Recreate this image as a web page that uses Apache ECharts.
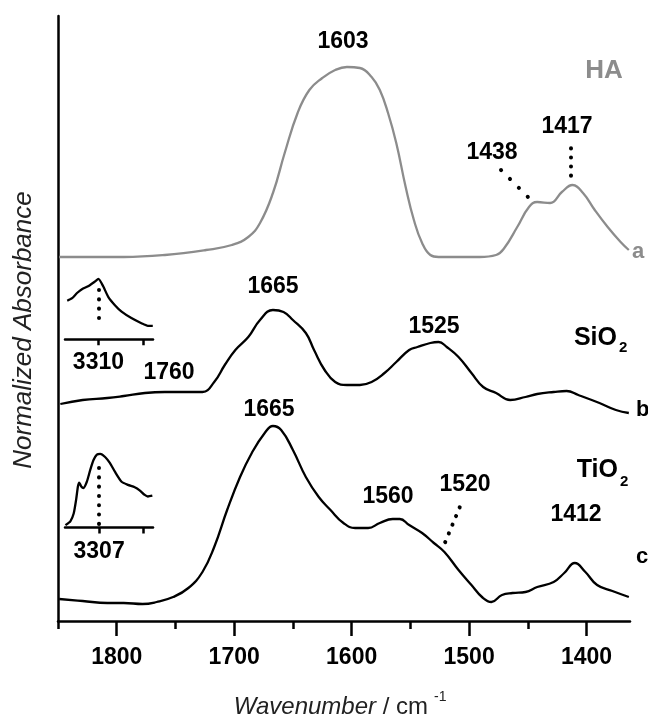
<!DOCTYPE html>
<html>
<head>
<meta charset="utf-8">
<script src="https://cdn.jsdelivr.net/npm/echarts@6/dist/echarts.min.js"></script>
<style>html,body{margin:0;padding:0;background:#fff}#c{width:648px;height:722px}</style>
</head>
<body>
<div id="c"></div>
<script>
// ---- data ----
const haWavenumber = [1849,1794,1759,1724,1702,1688,1678,1667,1657,1646,1636,1625,1614,1604,1593,1583,1576,1569,1562,1554,1547,1540,1533,1526,1512,1491,1477,1470,1459,1449,1442,1431,1421,1412,1403,1393,1382,1371,1364];
const haAbsorbance = [3.64,3.64,3.66,3.71,3.76,3.84,3.98,4.28,4.68,5.08,5.31,5.43,5.51,5.54,5.53,5.44,5.31,5.08,4.78,4.34,4.01,3.78,3.66,3.64,3.64,3.64,3.66,3.73,3.94,4.14,4.19,4.18,4.29,4.36,4.28,4.11,3.94,3.79,3.71];

const sio2Wavenumber = [1848,1829,1808,1794,1776,1759,1741,1727,1717,1708,1699,1688,1678,1667,1658,1650,1639,1632,1623,1614,1604,1593,1583,1572,1562,1551,1544,1533,1526,1519,1509,1498,1488,1477,1465,1452,1442,1428,1417,1407,1389,1375,1364];
const sio2Absorbance = [2.17,2.21,2.23,2.25,2.28,2.29,2.29,2.29,2.39,2.56,2.71,2.84,3.01,3.11,3.09,3.01,2.88,2.71,2.51,2.39,2.36,2.36,2.39,2.48,2.59,2.71,2.74,2.78,2.79,2.74,2.64,2.48,2.34,2.28,2.21,2.24,2.27,2.29,2.30,2.26,2.18,2.11,2.08];

const tio2Wavenumber = [1849,1829,1808,1794,1778,1766,1752,1739,1727,1717,1706,1695,1685,1674,1667,1660,1650,1639,1628,1618,1607,1597,1586,1576,1565,1559,1551,1540,1530,1521,1509,1498,1489,1481,1472,1463,1452,1442,1428,1419,1410,1401,1391,1378,1364];
const tio2Absorbance = [0.22,0.20,0.18,0.18,0.17,0.19,0.24,0.33,0.49,0.74,1.11,1.44,1.68,1.88,1.95,1.91,1.71,1.44,1.24,1.11,0.98,0.93,0.93,0.98,1.02,1.02,0.96,0.88,0.78,0.69,0.51,0.36,0.24,0.19,0.26,0.28,0.29,0.34,0.39,0.48,0.58,0.49,0.36,0.30,0.24];

const sio2InsetWavenumber = [3450,3428,3406,3384,3354,3325,3310,3288,3266,3236,3206,3162,3117,3088,3066];
const sio2InsetAbsorbance = [0.60,0.64,0.72,0.78,0.83,0.90,0.94,0.82,0.66,0.53,0.43,0.33,0.25,0.21,0.21];

const tio2InsetWavenumber = [3458,3436,3421,3410,3402,3396,3387,3377,3362,3347,3332,3317,3302,3280,3258,3236,3206,3177,3147,3125,3102,3088,3068];
const tio2InsetAbsorbance = [0.03,0.08,0.18,0.36,0.53,0.58,0.53,0.51,0.59,0.74,0.87,0.94,0.95,0.91,0.83,0.72,0.59,0.55,0.52,0.48,0.42,0.40,0.41];

const majorTicks = [1400,1500,1600,1700,1800];
const minorTicks = [1450,1550,1650,1750,1850];
const sio2InsetTicks = [3310,3110];
const sio2InsetLabel = [3310];
const tio2InsetTicks = [3307,3107];
const tio2InsetLabel = [3307];

// ---- chart ----
const zip = (a,b) => a.map((v,i) => [v, b[i]]);
const FF = '"Liberation Sans", Arial, sans-serif';
const dotStyle = (gap) => ({color:'#000', width:4, type:[0.1, gap], cap:'round'});
const plain = (v) => String(Math.round(v));

const chart = echarts.init(document.getElementById('c'), null, {renderer:'canvas'});

function txt(text, x, y, font, fill, align) {
  return {type:'text', x:x, y:y, silent:true,
    style:{text:text, font:font, fill:fill||'#000',
      align:align||'center', verticalAlign:'middle',
      textAlign:align||'center', textVerticalAlign:'middle'}};
}
const B23 = 'bold 23px ' + FF;

chart.setOption({
  animation:false,
  backgroundColor:'#fff',
  grid:[
    {left:58, right:18, top:16, bottom:101},
    {left:65, width:88, top:275, height:64.3},
    {left:65, width:88, top:450, height:77.5}
  ],
  xAxis:[
    {gridIndex:0, type:'value', inverse:true, min:1363, max:1850, position:'bottom',
      axisLine:{show:true, onZero:false, lineStyle:{color:'#000', width:2.5}},
      axisTick:{show:true, customValues:majorTicks, length:15, lineStyle:{color:'#000', width:2.5}},
      axisLabel:{show:true, customValues:majorTicks, formatter:plain, margin:25, color:'#000', fontSize:23, fontWeight:'bold', fontFamily:FF},
      splitLine:{show:false}},
    {gridIndex:0, type:'value', inverse:true, min:1363, max:1850, position:'bottom', offset:0,
      axisLine:{show:false},
      axisTick:{show:true, customValues:minorTicks, length:8, lineStyle:{color:'#000', width:2.5}},
      axisLabel:{show:false}, splitLine:{show:false}},
    {gridIndex:1, type:'value', inverse:true, min:3065, max:3460, position:'bottom',
      axisLine:{show:true, onZero:false, lineStyle:{color:'#000', width:2.5}},
      axisTick:{show:true, customValues:sio2InsetTicks, length:6, lineStyle:{color:'#000', width:2.5}},
      axisLabel:{show:true, customValues:sio2InsetLabel, formatter:plain, margin:12, color:'#000', fontSize:23, fontWeight:'bold', fontFamily:FF},
      splitLine:{show:false}},
    {gridIndex:2, type:'value', inverse:true, min:3065, max:3460, position:'bottom',
      axisLine:{show:true, onZero:false, lineStyle:{color:'#000', width:2.5}},
      axisTick:{show:true, customValues:tio2InsetTicks, length:6, lineStyle:{color:'#000', width:2.5}},
      axisLabel:{show:true, customValues:tio2InsetLabel, formatter:plain, margin:13, color:'#000', fontSize:23, fontWeight:'bold', fontFamily:FF},
      splitLine:{show:false}}
  ],
  yAxis:[
    {gridIndex:0, type:'value', min:0, max:6.05,
      axisLine:{show:true, onZero:false, lineStyle:{color:'#000', width:2.5}},
      axisTick:{show:false}, axisLabel:{show:false}, splitLine:{show:false}},
    {gridIndex:1, type:'value', min:0, max:1, show:false},
    {gridIndex:2, type:'value', min:0, max:1, show:false}
  ],
  series:[
    {name:'HA', type:'line', xAxisIndex:0, yAxisIndex:0, data:zip(haWavenumber, haAbsorbance),
      showSymbol:false, smooth:0.45, lineStyle:{color:'#8c8c8c', width:2.3}, itemStyle:{color:'#8c8c8c'},
      markLine:{silent:true, symbol:['none','none'], label:{show:false}, animation:false,
        data:[
          [{coord:[1472.8,4.51], lineStyle:dotStyle(12.5)},{coord:[1449.6,4.237]}],
          [{coord:[1413.6,4.727], lineStyle:dotStyle(9)},{coord:[1413.6,4.44]}]
        ]}},
    {name:'SiO2', type:'line', xAxisIndex:0, yAxisIndex:0, data:zip(sio2Wavenumber, sio2Absorbance),
      showSymbol:false, smooth:0.45, lineStyle:{color:'#000', width:2.3}, itemStyle:{color:'#000'}},
    {name:'TiO2', type:'line', xAxisIndex:0, yAxisIndex:0, data:zip(tio2Wavenumber, tio2Absorbance),
      showSymbol:false, smooth:0.45, lineStyle:{color:'#000', width:2.3}, itemStyle:{color:'#000'},
      markLine:{silent:true, symbol:['none','none'], label:{show:false}, animation:false,
        data:[
          [{coord:[1508,1.137], lineStyle:dotStyle(9.3)},{coord:[1521,0.77]}]
        ]}},
    {name:'SiO2 inset', type:'line', xAxisIndex:2, yAxisIndex:1, data:zip(sio2InsetWavenumber, sio2InsetAbsorbance),
      showSymbol:false, smooth:0.2, lineStyle:{color:'#000', width:2.3}, itemStyle:{color:'#000'},
      markLine:{silent:true, symbol:['none','none'], label:{show:false}, animation:false,
        data:[[{coord:[3310,0.767], lineStyle:dotStyle(9.2)},{coord:[3310,0.19]}]]}},
    {name:'TiO2 inset', type:'line', xAxisIndex:3, yAxisIndex:2, data:zip(tio2InsetWavenumber, tio2InsetAbsorbance),
      showSymbol:false, smooth:0.2, lineStyle:{color:'#000', width:2.3}, itemStyle:{color:'#000'},
      markLine:{silent:true, symbol:['none','none'], label:{show:false}, animation:false,
        data:[[{coord:[3307,0.768], lineStyle:dotStyle(9.2)},{coord:[3307,0.03]}]]}}
  ],
  graphic:[
    txt('1603', 343, 42, B23),
    txt('HA', 604, 71, 'bold 26px ' + FF, '#8c8c8c'),
    txt('1438', 492, 153, B23),
    txt('1417', 567, 127, B23),
    txt('a', 632, 252, 'bold 22px ' + FF, '#8c8c8c', 'left'),
    txt('1665', 273, 287, B23),
    txt('1525', 434, 327, B23),
    txt('SiO', 617, 338, 'bold 25px ' + FF, '#000', 'right'),
    txt('2', 619, 348, 'bold 15px ' + FF, '#000', 'left'),
    txt('1760', 169, 373, B23),
    txt('b', 636, 410, 'bold 22px ' + FF, '#000', 'left'),
    txt('1665', 269, 410, B23),
    txt('TiO', 618, 470, 'bold 25px ' + FF, '#000', 'right'),
    txt('2', 620, 482, 'bold 15px ' + FF, '#000', 'left'),
    txt('1560', 388, 497, B23),
    txt('1520', 465, 485, B23),
    txt('1412', 576, 515, B23),
    txt('c', 636, 557, 'bold 22px ' + FF, '#000', 'left'),
    {type:'text', x:24, y:330, rotation:Math.PI/2, silent:true,
      style:{text:'Normalized Absorbance', font:'italic 26px ' + FF, fill:'#222',
        align:'center', verticalAlign:'middle', textAlign:'center', textVerticalAlign:'middle'}},
    txt('Wavenumber', 376, 707, 'italic 24px ' + FF, '#222', 'right'),
    txt(' / cm', 376, 707, '24px ' + FF, '#222', 'left'),
    txt('-1', 434, 697, '14px ' + FF, '#222', 'left')
  ]
});
</script>
</body>
</html>
